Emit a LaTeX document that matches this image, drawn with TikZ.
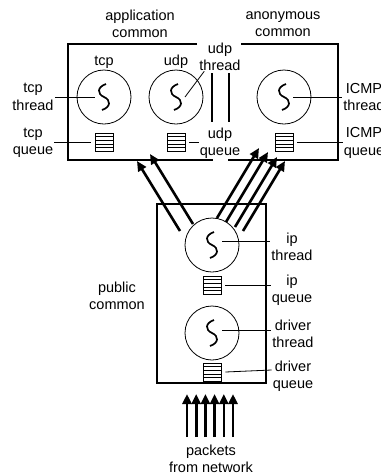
\documentclass[tikz,border=0pt]{standalone}
\usepackage{fontspec}
\setmainfont{Liberation Sans}
\usepackage{tikz}
\usetikzlibrary{arrows.meta, positioning, calc}

\tikzset{
  threadnode/.style={circle,draw,line width=0.8pt,minimum size=54pt,inner sep=0pt,
    path picture={\draw[line width=1.7pt,shift={(path picture bounding box.center)}]
      (2,-13) .. controls (-7,-10) and (-7,-3) .. (0,0) .. controls (7,3) and (7,10) .. (-2,13);}},
  queuebox/.style={draw,line width=0.8pt,minimum width=18pt,minimum height=18pt,inner sep=0pt,
    path picture={\foreach \k in {1,...,4}
      \draw[line width=0.6pt] ([yshift=\k*3.6pt]path picture bounding box.south west)
        -- ([yshift=\k*3.6pt]path picture bounding box.south east);}},
  tag/.style={align=center,inner sep=1pt},
  lead/.style={line width=0.8pt},
  wall/.style={line width=2.6pt},
  pkt/.style={-{Triangle[length=10pt,width=9pt]},line width=2.6pt}
}

\begin{document}
\begin{tikzpicture}[x=1pt,y=-1pt,every node/.style={font=\fontsize{14.5}{17.5}\selectfont}]
  \useasboundingbox (0,0) rectangle (381,475);

  % common walls
  \draw[wall] (197,44) -- (68,44) -- (68,160) -- (213,160);
  \draw[wall] (241,44) -- (338,44) -- (338,160) -- (228,160);
  \draw[wall] (212,73) -- (212,122);
  \draw[wall] (229,73) -- (229,122);
  \draw[wall] (157,204) rectangle (266,383);

  % threads and queues
  \node[threadnode] (tcpt) at (104,97) {};
  \node[threadnode] (udpt) at (176,97) {};
  \node[threadnode] (icmpt) at (284,97) {};
  \node[threadnode] (ipt) at (212,245) {};
  \node[threadnode] (drvt) at (212,333) {};
  \node[queuebox] (tcpq) at (104,142) {};
  \node[queuebox] (udpq) at (176,142) {};
  \node[queuebox] (icmpq) at (284,142) {};
  \node[queuebox] (ipq) at (212,285) {};
  \node[queuebox] (drvq) at (212,372) {};

  % labels
  \node[tag] (app) at (140,24) {application\\common};
  \node[tag] (anon) at (283,24) {anonymous\\common};
  \node[tag] (pub) at (117,296) {public\\common};
  \node[tag] (tcpl) at (104,62) {tcp};
  \node[tag] (udpl) at (176,62) {udp};
  \node[tag] (udptl) at (220,57) {udp\\thread};
  \node[tag] (udpql) at (220,143) {udp\\queue};
  \node[tag] (tcptl) at (33,97) {tcp\\thread};
  \node[tag] (tcpql) at (33,143) {tcp\\queue};
  \node[tag] (icmptl) at (364,97) {ICMP\\thread};
  \node[tag] (icmpql) at (364,143) {ICMP\\queue};
  \node[tag] (iptl) at (292,247) {ip\\thread};
  \node[tag] (ipql) at (292,290) {ip\\queue};
  \node[tag] (drvtl) at (293,334) {driver\\thread};
  \node[tag] (drvql) at (293,376) {driver\\queue};
  \node[tag] (pkts) at (211,459) {packets\\from network};

  % leader lines
  \draw[lead] (tcptl.east |- tcpt) -- ($(tcpt.center)+(-9,0)$);
  \draw[lead] ([xshift=-4pt]tcpq.west) -- (tcpql.east |- tcpq);
  \draw[lead] ($(udpt.center)+(9,0)$) -- ($(udptl.south west)+(6,-1)$);
  \draw[lead] ([xshift=4pt]udpq.east) -- (udpql.west |- udpq);
  \draw[lead] ($(icmpt.center)+(9,0)$) -- (icmptl.west |- icmpt);
  \draw[lead] ([xshift=4pt]icmpq.east) -- (icmpql.west |- icmpq);
  \draw[lead] ($(ipt.center)+(10,-4)$) -- (iptl.west |- 0,241);
  \draw[lead] ([xshift=4pt]ipq.east) -- (ipql.west |- ipq);
  \draw[lead] ($(drvt.center)+(10,-3)$) -- (drvtl.west |- 0,330);
  \draw[lead] ([xshift=4pt]drvq.east) -- (drvql.west |- 0,370);

  % packets up from ip thread
  \foreach \x/\y [count=\i] in {180/231, 193/224} {
    \coordinate (ls\i) at (\x,\y);
    \coordinate (le\i) at ($(ls\i)+(-43,-70)$);
    \draw[pkt] (ls\i) -- (le\i);
  }
  \foreach \x/\y [count=\i] in {217/218, 226/222, 235/227, 243/231} {
    \coordinate (rs\i) at (\x,\y);
    \coordinate (re\i) at ($(rs\i)+(42,-70)$);
    \draw[pkt] (rs\i) -- (re\i);
  }
  % packets from network
  \foreach \i in {0,...,5} {
    \coordinate (ns\i) at (187+9.2*\i,437);
    \coordinate (ne\i) at (187+9.2*\i,394);
    \draw[pkt] (ns\i) -- (ne\i);
  }
\end{tikzpicture}
\end{document}
